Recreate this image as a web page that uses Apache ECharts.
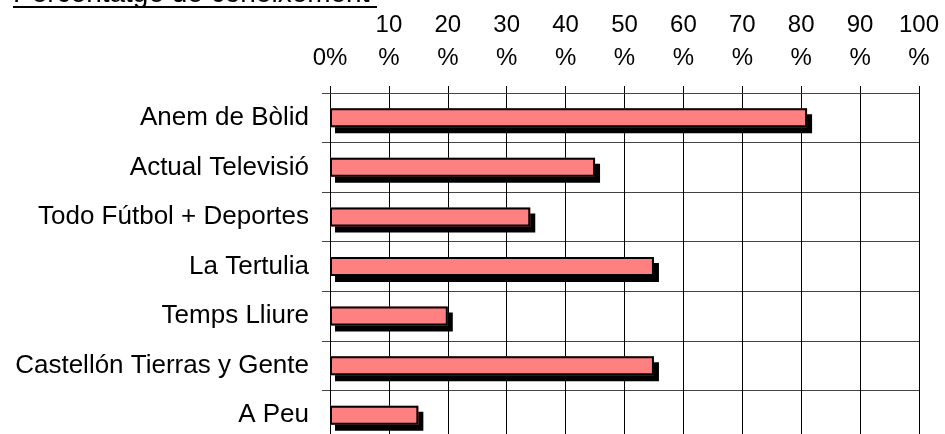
<!DOCTYPE html>
<html>
<head>
<meta charset="utf-8">
<script src="https://cdn.jsdelivr.net/npm/echarts@6/dist/echarts.min.js"></script>
<style>
  html, body { margin: 0; padding: 0; background: #fff; }
  #chart { width: 945px; height: 434px; }
</style>
</head>
<body>
<div id="chart"></div>
<script>
// programes (de dalt a baix)
const categories = [
  'Anem de Bòlid',
  'Actual Televisió',
  'Todo Fútbol + Deportes',
  'La Tertulia',
  'Temps Lliure',
  'Castellón Tierras y Gente',
  'A Peu'
]
// percentatge de coneixement
const values = [81, 45, 34, 55, 20, 55, 15]
// etiquetes de l'eix superior
const tickValues = [0, 10, 20, 30, 40, 50, 60, 70, 80, 90, 100]
const tickLabels = ['0%', '10\n%', '20\n%', '30\n%', '40\n%', '50\n%', '60\n%', '70\n%', '80\n%', '90\n%', '100\n%']

const FONT = 'Liberation Sans, Arial, Helvetica, sans-serif'

const chart = echarts.init(document.getElementById('chart'))
const option = {
  animation: false,
  backgroundColor: '#fff',
  title: {
    text: 'Percentatge de coneixement',
    left: 13,
    top: -20,
    padding: 0,
    textStyle: { fontFamily: FONT, fontSize: 28, fontWeight: 'normal', color: '#000' }
  },
  // subratllat del títol
  graphic: [{
    type: 'line',
    shape: { x1: 13, y1: 7, x2: 377, y2: 7 },
    style: { stroke: '#000', lineWidth: 2 }
  }],
  // la graella continua per sota de la finestra
  grid: { left: 330, top: 93, width: 589, height: 347, outerBoundsMode: 'none' },
  xAxis: {
    type: 'value',
    position: 'top',
    min: 0,
    max: 100,
    interval: 10,
    axisLine: { show: true, lineStyle: { color: '#444', width: 1 } },
    axisTick: { show: true, length: 7, lineStyle: { color: '#000', width: 1 } },
    splitLine: { show: true, lineStyle: { color: '#000', width: 1 } },
    axisLabel: {
      margin: 18,
      fontFamily: FONT,
      fontSize: 24,
      lineHeight: 33,
      color: '#000',
      formatter: v => tickLabels[tickValues.indexOf(v)]
    }
  },
  yAxis: {
    type: 'category',
    data: categories,
    inverse: true,
    axisLine: { show: true, lineStyle: { color: '#000', width: 1 } },
    axisTick: { show: true, length: 8, lineStyle: { color: '#444', width: 1 } },
    splitLine: { show: true, lineStyle: { color: '#444', width: 1 } },
    axisLabel: {
      margin: 21,
      fontFamily: FONT,
      fontSize: 26,
      color: '#000'
    }
  },
  series: [
    // farciment rosa amb l'ombra negra
    {
      type: 'bar',
      data: values,
      barWidth: 19,
      itemStyle: {
        color: '#ff8080',
        shadowColor: '#000',
        shadowBlur: 0,
        shadowOffsetX: 5,
        shadowOffsetY: 6
      },
      emphasis: { disabled: true }
    },
    // vora negra per sobre
    {
      type: 'bar',
      data: values,
      barWidth: 19,
      barGap: '-100%',
      itemStyle: {
        color: 'rgba(0,0,0,0)',
        borderColor: '#000',
        borderWidth: 2
      },
      emphasis: { disabled: true }
    }
  ]
}
chart.setOption(option)
</script>
</body>
</html>
